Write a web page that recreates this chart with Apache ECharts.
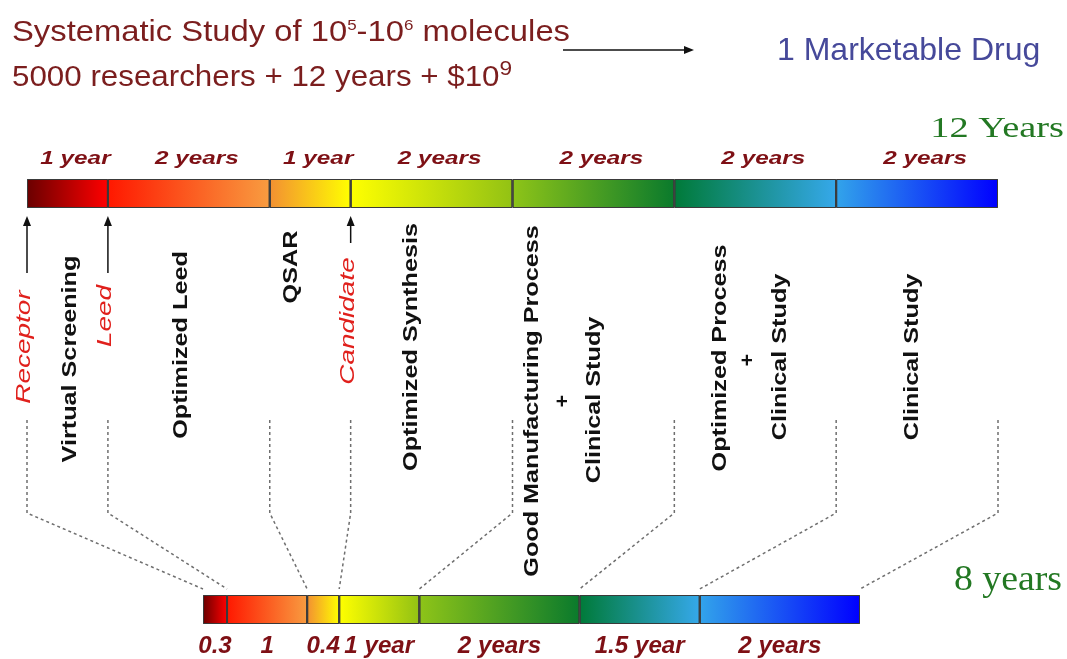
<!DOCTYPE html>
<html>
<head>
<meta charset="utf-8">
<script src="https://cdn.jsdelivr.net/npm/echarts@6/dist/echarts.min.js"></script>
<style>
  html, body { margin: 0; padding: 0; background: #ffffff; }
  #chart { width: 1067px; height: 659px; }
</style>
</head>
<body>
<div id="chart"></div>
<script>
// Phase durations (years) of the conventional pipeline
const classicDurations = [1, 2, 1, 2, 2, 2, 2];
const classicLabels = ['1 year', '2 years', '1 year', '2 years', '2 years', '2 years', '2 years'];
const classicTotal = '12 Years';

// Phase durations (years) of the shortened pipeline
const fastDurations = [0.3, 1, 0.4, 1, 2, 1.5, 2];
const fastLabels = ['0.3', '1', '0.4', '1 year', '2 years', '1.5 year', '2 years'];
const fastTotal = '8 years';

// Left / right colour of each phase band
const phaseColors = [
  ['#6a0000', '#ff0000'],
  ['#ff1800', '#f89c40'],
  ['#f39032', '#ffff00'],
  ['#ffff00', '#92c214'],
  ['#8ec418', '#0a7a2c'],
  ['#007a38', '#35a8ea'],
  ['#32a4ea', '#0000ff']
];

// Milestones marked with an arrow on the 12-year bar (name, year)
const milestoneNames = ['Receptor', 'Leed', 'Candidate'];
const milestoneYears = [0, 1, 4];

// Work carried out during the phases
const stageNames = ['Virtual Screening', 'Optimized Leed', 'QSAR', 'Optimized Synthesis',
  'Good Manufacturing Process', '+', 'Clinical Study',
  'Optimized Process', '+', 'Clinical Study', 'Clinical Study'];
const stageCenters = [[70, 359], [181, 345], [291, 267], [411, 347],
  [532, 401], [563, 401], [594, 400],
  [720, 358], [748, 360], [780, 357], [912, 357]];

const sum = a => a.reduce((s, v) => s + v, 0);
const cumulative = a => a.reduce((acc, v) => { acc.push(acc[acc.length - 1] + v); return acc; }, [0]);

const chart = echarts.init(document.getElementById('chart'), null, { renderer: 'canvas' });

function phaseSeries(durations, stack, axis) {
  return durations.map((d, i) => ({
    type: 'bar',
    stack: stack,
    xAxisIndex: axis,
    yAxisIndex: axis,
    barWidth: '100%',
    data: [d],
    silent: true,
    itemStyle: {
      color: new echarts.graphic.LinearGradient(0, 0, 1, 0, [
        { offset: 0, color: phaseColors[i][0] },
        { offset: 1, color: phaseColors[i][1] }
      ]),
      borderColor: '#3a3a3a',
      borderWidth: 1
    }
  }));
}

chart.setOption({
  animation: false,
  backgroundColor: '#ffffff',
  grid: [
    { left: 27, top: 179, width: 971, height: 29 },
    { left: 203, top: 595, width: 657, height: 29 }
  ],
  xAxis: [
    { type: 'value', gridIndex: 0, min: 0, max: sum(classicDurations), show: false },
    { type: 'value', gridIndex: 1, min: 0, max: sum(fastDurations), show: false }
  ],
  yAxis: [
    { type: 'category', gridIndex: 0, data: ['classic'], show: false },
    { type: 'category', gridIndex: 1, data: ['fast'], show: false }
  ],
  series: phaseSeries(classicDurations, 'classic', 0).concat(phaseSeries(fastDurations, 'fast', 1))
});

// ---- annotations positioned through the axes ----
const topX = v => chart.convertToPixel({ xAxisIndex: 0 }, v);
const botX = v => chart.convertToPixel({ xAxisIndex: 1 }, v);
const measure = document.createElement('canvas').getContext('2d');
const textW = (s, font) => { measure.font = font; return measure.measureText(s).width; };

const SANS = '"Liberation Sans", Arial, sans-serif';
const SERIF = '"Liberation Serif", "Times New Roman", serif';
const g = [];

function txt(text, x, y, font, fill, opts) {
  opts = opts || {};
  const style = {
    text: text, font: font, fill: fill,
    align: opts.align || 'left', textAlign: opts.align || 'left',
    verticalAlign: opts.valign || 'middle', textVerticalAlign: opts.valign || 'middle'
  };
  if (opts.shadow) {
    style.shadowColor = opts.shadow;
    style.shadowBlur = 1.5;
    style.shadowOffsetX = 0.5;
    style.shadowOffsetY = 1;
  }
  g.push({
    type: 'text', x: x, y: y, silent: true,
    rotation: opts.rotation || 0,
    scaleX: opts.scaleX || 1,
    style: style
  });
}

// title lines built from pieces (text, size, rise)
function titleLine(x, baseline, pieces, fill, scaleX) {
  let cx = x;
  pieces.forEach(p => {
    const font = p[1] + 'px ' + SANS;
    const y = baseline - p[2] - p[1] * 0.36;
    txt(p[0], cx, y, font, fill, { scaleX: scaleX });
    cx += textW(p[0], font) * scaleX;
  });
}
const maroon = '#7b1e1e';
titleLine(12, 43, [['Systematic Study of 10', 29, 0], ['5', 15, 12], ['-10', 29, 0], ['6', 15, 12], [' molecules', 29, 0]], maroon, 1.13);
titleLine(12, 88, [['5000 researchers + 12 years + $10', 29, 0], ['9', 21, 11]], maroon, 1.08);

// arrow to the single marketed drug
g.push({ type: 'line', silent: true, shape: { x1: 563, y1: 50, x2: 686, y2: 50 }, style: { stroke: '#111', lineWidth: 1.5 } });
g.push({ type: 'polygon', silent: true, shape: { points: [[694, 50], [684, 46], [684, 54]] }, style: { fill: '#111' } });
txt('1 Marketable Drug', 777, 51, '32px ' + SANS, '#46499a');

// totals
txt(classicTotal, 1064, 129, '30px ' + SERIF, '#237823', { align: 'right', scaleX: 1.28 });
txt(fastTotal, 1062, 581, '35px ' + SERIF, '#237823', { align: 'right', scaleX: 1.08 });

// phase duration labels
const redLabel = '#7e1015';
const cTop = cumulative(classicDurations);
classicDurations.forEach((d, i) => {
  txt(classicLabels[i], topX(cTop[i] + d / 2) + 8, 159, 'italic bold 18px ' + SANS, redLabel,
      { align: 'center', scaleX: 1.35, shadow: 'rgba(60,0,0,0.55)' });
});
const cBot = cumulative(fastDurations);
fastDurations.forEach((d, i) => {
  txt(fastLabels[i], botX(cBot[i] + d / 2), 647, 'italic bold 23px ' + SANS, redLabel,
      { align: 'center', scaleX: 1.05, shadow: 'rgba(60,0,0,0.45)' });
});

// dotted connectors from each 12-year boundary to the matching 8-year boundary
cTop.forEach((v, i) => {
  const xt = topX(v), xb = botX(cBot[i]);
  g.push({
    type: 'polyline', silent: true,
    shape: { points: [[xt, 420], [xt, 513], [xb, 589]] },
    style: { stroke: '#6f6f6f', lineWidth: 1.5, lineDash: [3, 3], fill: null }
  });
});

// milestones: arrow pointing at the bar plus rotated red label
const milestoneArrowBottom = [273, 273, 243];
const milestoneLabelY = [347, 316, 321];
milestoneNames.forEach((name, i) => {
  const x = topX(milestoneYears[i]);
  g.push({ type: 'line', silent: true, shape: { x1: x, y1: 224, x2: x, y2: milestoneArrowBottom[i] }, style: { stroke: '#111', lineWidth: 1.5 } });
  g.push({ type: 'polygon', silent: true, shape: { points: [[x, 216], [x - 4, 226], [x + 4, 226]] }, style: { fill: '#111' } });
  txt(name, x - 3, milestoneLabelY[i], 'italic 21px ' + SANS, '#e0201c', { align: 'center', rotation: Math.PI / 2, scaleX: 1.33 });
});

// stage names, read bottom to top
stageNames.forEach((name, i) => {
  txt(name, stageCenters[i][0], stageCenters[i][1], 'bold 21px ' + SANS, '#111111',
      { align: 'center', rotation: Math.PI / 2, scaleX: name === '+' ? 1 : 1.2 });
});

chart.setOption({ graphic: { elements: g } });
</script>
</body>
</html>
